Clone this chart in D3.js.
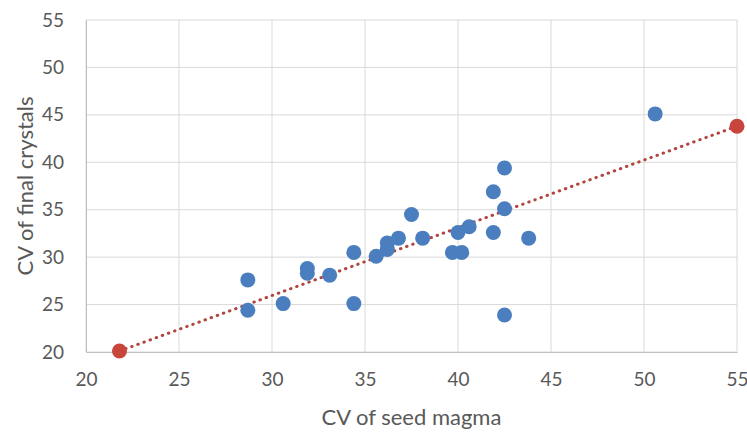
<!DOCTYPE html>
<html>
<head>
<meta charset="utf-8">
<script src="https://cdn.jsdelivr.net/npm/d3@7"></script>
<style>
  body { margin: 0; background: #fff; }
  text { font-family: Lato, "Open Sans", sans-serif; fill: #595959; }
</style>
</head>
<body>
<script>
// seed magma CV vs final crystal CV
var seedCV  = [28.7, 28.7, 30.6, 31.9, 31.9, 33.1, 34.4, 34.4, 35.6, 36.2, 36.2, 36.8, 37.5, 38.1, 39.7, 40.2, 40.0, 40.6, 41.9, 41.9, 42.5, 42.5, 42.5, 43.8, 50.6];
var finalCV = [27.6, 24.4, 25.1, 28.8, 28.3, 28.1, 30.5, 25.1, 30.1, 31.5, 30.8, 32.0, 34.5, 32.0, 30.5, 30.5, 32.6, 33.2, 36.9, 32.6, 39.4, 35.1, 23.9, 32.0, 45.1];
var trendX = [21.8, 55];
var trendY = [20.1, 43.8];
var xTicks = [20, 25, 30, 35, 40, 45, 50, 55];
var yTicks = [20, 25, 30, 35, 40, 45, 50, 55];

var W = 747, H = 433;
var margin = {top: 20, right: 10, bottom: 81, left: 86},
    width = W - margin.left - margin.right,
    height = H - margin.top - margin.bottom;

var svg = d3.select("body").append("svg")
    .attr("width", W)
    .attr("height", H);

var g = svg.append("g")
    .attr("transform", "translate(" + margin.left + "," + margin.top + ")");

var x = d3.scaleLinear().domain([20, 55]).range([0, width]);
var y = d3.scaleLinear().domain([20, 55]).range([height, 0]);

// grid
g.append("g")
    .selectAll("line.gx")
    .data(xTicks)
    .enter().append("line")
    .attr("x1", function(d) { return x(d); })
    .attr("x2", function(d) { return x(d); })
    .attr("y1", 0).attr("y2", height)
    .attr("stroke", "#d9d9d9").attr("stroke-width", 1);

g.append("g")
    .selectAll("line.gy")
    .data(yTicks)
    .enter().append("line")
    .attr("y1", function(d) { return y(d); })
    .attr("y2", function(d) { return y(d); })
    .attr("x1", 0).attr("x2", width)
    .attr("stroke", "#d9d9d9").attr("stroke-width", 1);

// axes
var xAxis = g.append("g")
    .attr("transform", "translate(0," + height + ")")
    .call(d3.axisBottom(x).tickValues(xTicks).tickSize(0).tickPadding(21));
xAxis.select(".domain").attr("stroke", "#bfbfbf");
xAxis.selectAll("text").style("font-size", "19px").attr("fill", "#595959");

var yAxis = g.append("g")
    .call(d3.axisLeft(y).tickValues(yTicks).tickSize(0).tickPadding(22));
yAxis.select(".domain").attr("stroke", "#bfbfbf");
yAxis.selectAll("text").style("font-size", "19px").attr("fill", "#595959");

// trend line
var line = d3.line()
    .x(function(d) { return x(d[0]); })
    .y(function(d) { return y(d[1]); });

var trend = d3.zip(trendX, trendY);
g.append("path")
    .datum(trend)
    .attr("d", line)
    .attr("fill", "none")
    .attr("stroke", "#b0463f")
    .attr("stroke-width", 3)
    .attr("stroke-linecap", "round")
    .attr("stroke-dasharray", "0.5,6");

// points
g.append("g")
    .selectAll("circle")
    .data(d3.zip(seedCV, finalCV))
    .enter().append("circle")
    .attr("cx", function(d) { return x(d[0]); })
    .attr("cy", function(d) { return y(d[1]); })
    .attr("r", 7.5)
    .attr("fill", "#4a7ebf");

g.append("g")
    .selectAll("circle")
    .data(trend)
    .enter().append("circle")
    .attr("cx", function(d) { return x(d[0]); })
    .attr("cy", function(d) { return y(d[1]); })
    .attr("r", 7.5)
    .attr("fill", "#c8453b");

// titles
svg.append("text")
    .attr("x", margin.left + width / 2)
    .attr("y", 425)
    .attr("text-anchor", "middle")
    .style("font-size", "22px")
    .text("CV of seed magma");

svg.append("text")
    .attr("transform", "translate(33," + (margin.top + height / 2) + ") rotate(-90)")
    .attr("text-anchor", "middle")
    .style("font-size", "22px")
    .text("CV of final crystals");
</script>
</body>
</html>
